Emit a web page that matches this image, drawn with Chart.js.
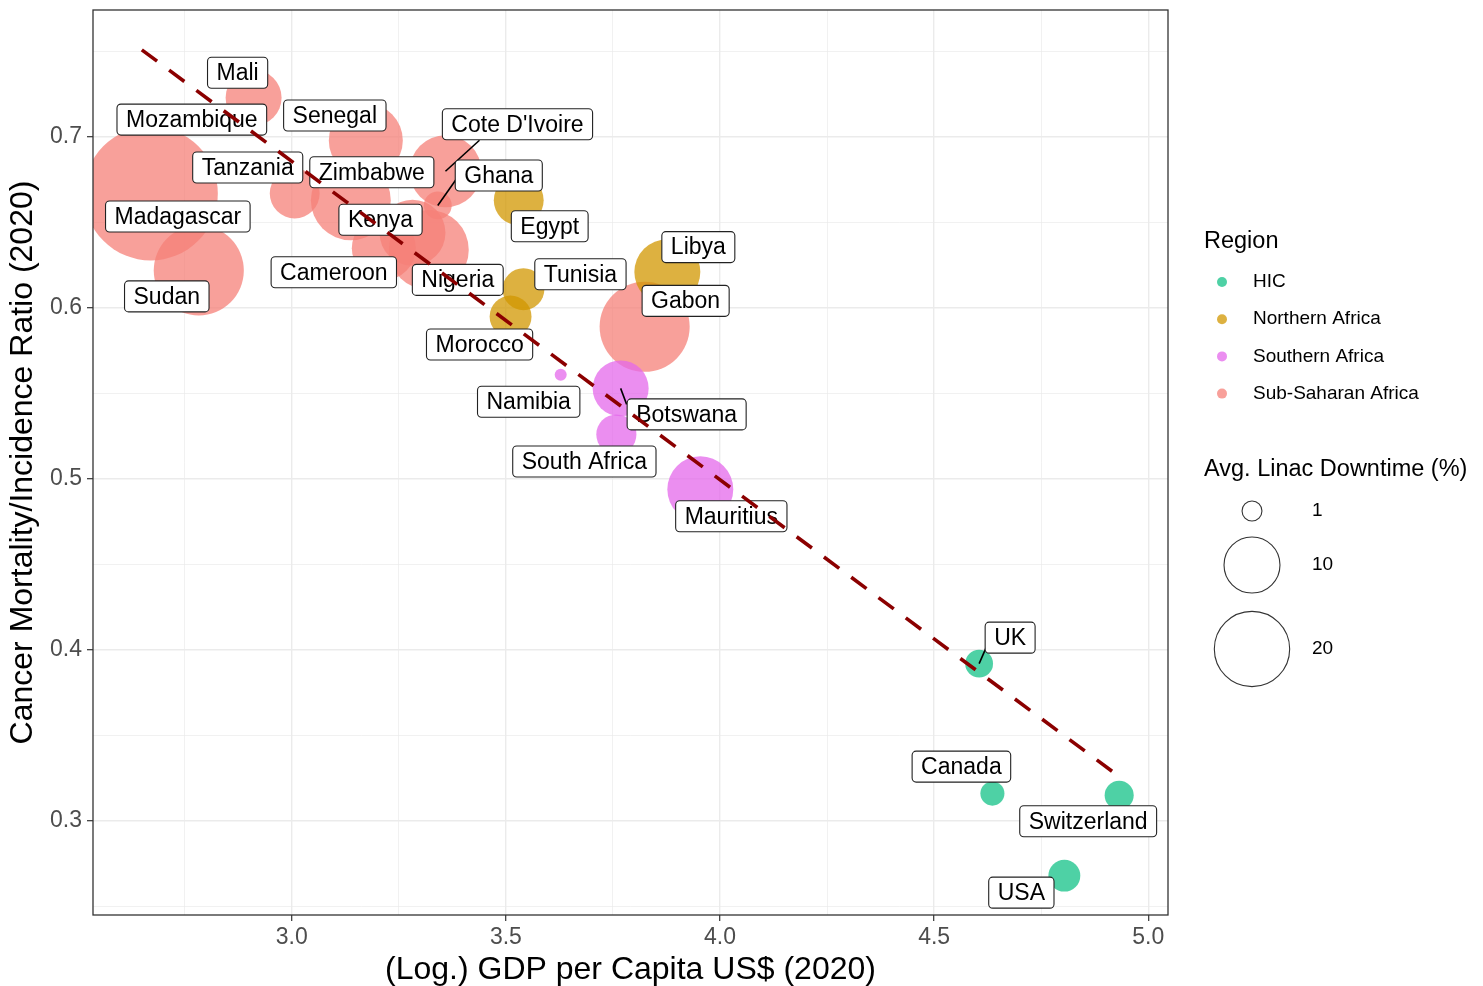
<!DOCTYPE html>
<html>
<head>
<meta charset="utf-8">
<script src="https://cdn.jsdelivr.net/npm/chart.js@4/dist/chart.umd.min.js"></script>
<style>
  html, body { margin: 0; padding: 0; background: #ffffff; }
  #wrap { width: 1483px; height: 986px; }
</style>
</head>
<body>
<div id="wrap"><canvas id="chart" width="1483" height="986"></canvas></div>
<script>
// ---- data ----
const countries = ['Mali', 'Mozambique', 'Senegal', "Cote D'Ivoire", 'Tanzania', 'Zimbabwe', 'Ghana',
  'Madagascar', 'Kenya', 'Egypt', 'Libya', 'Cameroon', 'Tunisia', 'Nigeria', 'Sudan', 'Gabon',
  'Morocco', 'Namibia', 'Botswana', 'South Africa', 'Mauritius', 'UK', 'Canada', 'Switzerland', 'USA'];
const regions = ['Sub-Saharan Africa', 'Sub-Saharan Africa', 'Sub-Saharan Africa', 'Sub-Saharan Africa',
  'Sub-Saharan Africa', 'Sub-Saharan Africa', 'Sub-Saharan Africa', 'Sub-Saharan Africa', 'Sub-Saharan Africa',
  'Northern Africa', 'Northern Africa', 'Sub-Saharan Africa', 'Northern Africa', 'Sub-Saharan Africa',
  'Sub-Saharan Africa', 'Sub-Saharan Africa', 'Northern Africa', 'Southern Africa', 'Southern Africa',
  'Southern Africa', 'Southern Africa', 'HIC', 'HIC', 'HIC', 'HIC'];
const logGdp = [2.911, 2.650, 3.173, 3.359, 3.007, 3.138, 3.341, 2.671, 3.282, 3.530, 3.877, 3.215, 3.541,
  3.320, 2.783, 3.824, 3.511, 3.628, 3.768, 3.758, 3.954, 4.605, 4.636, 4.932, 4.804];
const mortalityRatio = [0.723, 0.695, 0.698, 0.680, 0.667, 0.663, 0.660, 0.667, 0.644, 0.663, 0.621, 0.635,
  0.611, 0.634, 0.622, 0.589, 0.595, 0.561, 0.553, 0.526, 0.494, 0.392, 0.316, 0.315, 0.268];
const downtime = [10.0, null, 19.2, 18.0, 7.6, 22.9, 1.9, 72.3, 14.7, 7.6, 14.7, 13.7, 5.0, 22.9, 30.0, 30.0,
  5.0, 0.7, 10.0, 4.5, 14.7, 1.9, 1.4, 2.1, 2.6];

const regionNames = ['HIC', 'Northern Africa', 'Southern Africa', 'Sub-Saharan Africa'];
const sizeBreaks = [1, 10, 20];
const xTickValues = [3.0, 3.5, 4.0, 4.5, 5.0];
const yTickValues = [0.3, 0.4, 0.5, 0.6, 0.7];
const trendX = [2.650, 4.932];
const trendY = [0.751, 0.326];

// ---- styling / layout ----
const regionColors = ['rgba(19,194,135,0.75)', 'rgba(210,151,0,0.75)', 'rgba(228,104,235,0.75)', 'rgba(246,128,120,0.75)'];
// label box offsets from the point, in pixels
const labelDX = [-16, 50, -31, 72, -47, 21, 61, 27, -32, 31, 31, -50, 57, 29, -32, 41, -31, -32, 66, -32, 31, 31, -31, -31, -43];
const labelDY = [-25, -26, -25, -47, -26, -28, -30, 23, -13, 26, -25, 24, -15, 30, 26, -26, 28, 27, 26, 27, 27, -26, -27, 26, 17];
// connector lines: end of the leader, in pixels from the point
const segmentEnds = {
  "Cote D'Ivoire": [34, -31],
  'Ghana': [19, -27],
  'Botswana': [6, 16],
  'UK': [7, -16]
};

const FONT = "'Liberation Sans', Arial, Helvetica, sans-serif";
const validDowntime = downtime.filter(v => v !== null);
const vMin = Math.min(...validDowntime);
function sizeToRadius(v) {
  return 6 + 7.21 * Math.sqrt(Math.max(0, v - vMin));
}

const bubbleSets = regionNames.map((name, k) => ({
  type: 'bubble',
  label: name,
  data: countries.map((c, i) => ({ x: logGdp[i], y: mortalityRatio[i], v: downtime[i], name: c, region: regions[i] }))
    .filter(p => p.region === name && p.v !== null),
  backgroundColor: regionColors[k],
  borderWidth: 0,
  radius: ctx => sizeToRadius(ctx.raw.v),
  hoverRadius: 0,
  order: 2
}));

const trendSet = {
  type: 'line',
  label: 'trend',
  data: trendX.map((x, i) => ({ x: x, y: trendY[i] })),
  borderColor: '#8B0000',
  borderWidth: 3.6,
  borderDash: [19, 15],
  borderCapStyle: 'butt',
  pointRadius: 0,
  fill: false,
  order: 1
};

function isMajor(list, v) { return list.some(t => Math.abs(t - v) < 1e-9); }

const labelPlugin = {
  id: 'repelLabels',
  beforeDatasetDraw(chart, args) {
    if (chart.data.datasets[args.index].label !== 'trend') return;
    const ctx = chart.ctx;
    const xs = chart.scales.x, ys = chart.scales.y;
    ctx.save();
    ctx.font = '23px ' + FONT;
    const boxes = countries.map((c, i) => {
      const px = xs.getPixelForValue(logGdp[i]);
      const py = ys.getPixelForValue(mortalityRatio[i]);
      const w = ctx.measureText(c).width + 18;
      const h = 31;
      const cx = px + labelDX[i], cy = py + labelDY[i];
      return { c, px, py, cx, cy, w, h };
    });
    // connector segments
    ctx.strokeStyle = '#000';
    ctx.lineWidth = 1.6;
    boxes.forEach(b => {
      const end = segmentEnds[b.c];
      if (!end) return;
      ctx.beginPath();
      ctx.moveTo(b.px, b.py);
      ctx.lineTo(b.px + end[0], b.py + end[1]);
      ctx.stroke();
    });
    // label boxes
    boxes.forEach(b => {
      const x0 = b.cx - b.w / 2, y0 = b.cy - b.h / 2;
      ctx.beginPath();
      ctx.roundRect(x0, y0, b.w, b.h, 4);
      ctx.fillStyle = '#ffffff';
      ctx.fill();
      ctx.strokeStyle = '#222222';
      ctx.lineWidth = 1.1;
      ctx.stroke();
      ctx.fillStyle = '#000000';
      ctx.textAlign = 'center';
      ctx.textBaseline = 'middle';
      ctx.fillText(b.c, b.cx, b.cy + 1);
    });
    ctx.restore();
  }
};

const framePlugin = {
  id: 'panelFrame',
  afterDraw(chart) {
    const { ctx, chartArea: a } = chart;
    ctx.save();
    ctx.strokeStyle = '#333333';
    ctx.lineWidth = 1.3;
    ctx.strokeRect(a.left, a.top, a.right - a.left, a.bottom - a.top);
    ctx.restore();
  }
};

const legendPlugin = {
  id: 'sideLegend',
  afterDraw(chart) {
    const ctx = chart.ctx;
    ctx.save();
    ctx.fillStyle = '#000';
    ctx.textBaseline = 'middle';
    ctx.textAlign = 'left';
    ctx.font = '23.5px ' + FONT;
    ctx.fillText('Region', 1204, 242);
    ctx.font = '19px ' + FONT;
    regionNames.forEach((name, k) => {
      const y = 282 + k * 37.2;
      ctx.beginPath();
      ctx.arc(1222, y, 5, 0, Math.PI * 2);
      ctx.fillStyle = regionColors[k];
      ctx.fill();
      ctx.fillStyle = '#000';
      ctx.fillText(name, 1253, y);
    });
    ctx.font = '23.5px ' + FONT;
    ctx.fillText('Avg. Linac Downtime (%)', 1204, 470);
    const rowY = [511, 565, 649];
    ctx.font = '19px ' + FONT;
    sizeBreaks.forEach((v, k) => {
      ctx.beginPath();
      ctx.arc(1252, rowY[k], sizeToRadius(v), 0, Math.PI * 2);
      ctx.strokeStyle = '#333333';
      ctx.lineWidth = 1.1;
      ctx.stroke();
      ctx.fillStyle = '#000';
      ctx.fillText(String(v), 1312, rowY[k]);
    });
    ctx.restore();
  }
};

const gridColor = '#EBEBEB';

new Chart(document.getElementById('chart'), {
  data: { datasets: [...bubbleSets, trendSet] },
  options: {
    responsive: false,
    devicePixelRatio: 1,
    animation: false,
    events: [],
    layout: { autoPadding: false, padding: { top: 10, right: 315, left: 0, bottom: 0 } },
    plugins: { legend: { display: false }, tooltip: { enabled: false } },
    scales: {
      x: {
        type: 'linear',
        min: 2.536,
        max: 5.046,
        afterBuildTicks: s => { s.ticks = [2.75, 3.0, 3.25, 3.5, 3.75, 4.0, 4.25, 4.5, 4.75, 5.0].map(v => ({ value: v })); },
        afterFit: s => { s.height = 71; s.paddingLeft = 0; s.paddingRight = 0; },
        ticks: {
          autoSkip: false,
          maxRotation: 0,
          padding: 3,
          color: '#4D4D4D',
          font: { family: FONT, size: 23 },
          callback: v => isMajor(xTickValues, v) ? v.toFixed(1) : ''
        },
        grid: {
          color: gridColor,
          lineWidth: c => isMajor(xTickValues, c.tick.value) ? 1.4 : 0.7,
          tickColor: c => isMajor(xTickValues, c.tick.value) ? '#333333' : 'rgba(0,0,0,0)',
          tickLength: 6,
          tickWidth: 1.2
        },
        border: { display: false },
        title: {
          display: true,
          text: '(Log.) GDP per Capita US$ (2020)',
          color: '#000',
          font: { family: FONT, size: 32, lineHeight: 1.0 },
          padding: { top: 0, bottom: 0 }
        }
      },
      y: {
        type: 'linear',
        min: 0.245,
        max: 0.7743,
        afterBuildTicks: s => { s.ticks = [0.25, 0.3, 0.35, 0.4, 0.45, 0.5, 0.55, 0.6, 0.65, 0.7, 0.75].map(v => ({ value: v })); },
        afterFit: s => { s.width = 93; s.paddingTop = 0; s.paddingBottom = 0; },
        ticks: {
          autoSkip: false,
          padding: 5,
          color: '#4D4D4D',
          font: { family: FONT, size: 23 },
          callback: v => isMajor(yTickValues, v) ? v.toFixed(1) : ''
        },
        grid: {
          color: gridColor,
          lineWidth: c => isMajor(yTickValues, c.tick.value) ? 1.4 : 0.7,
          tickColor: c => isMajor(yTickValues, c.tick.value) ? '#333333' : 'rgba(0,0,0,0)',
          tickLength: 6,
          tickWidth: 1.2
        },
        border: { display: false },
        title: {
          display: true,
          text: 'Cancer Mortality/Incidence Ratio (2020)',
          color: '#000',
          font: { family: FONT, size: 32, lineHeight: 1.1 },
          padding: { top: 6, bottom: 0 }
        }
      }
    }
  },
  plugins: [labelPlugin, framePlugin, legendPlugin]
});
</script>
</body>
</html>
